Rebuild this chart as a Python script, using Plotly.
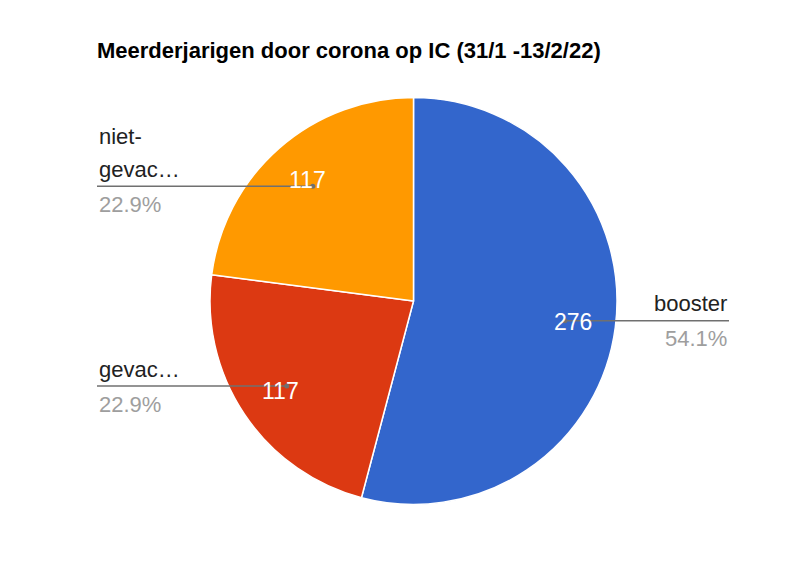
import numpy as np
import plotly.graph_objects as go

# ── Data ────────────────────────────────────────────────────────────── #
categories = ["booster", "gevaccineerd", "niet-gevaccineerd"]
shown_labels = [["booster"], ["gevac…"], ["niet-", "gevac…"]]
patients = [276, 117, 117]
colors = ["#3366cc", "#dc3912", "#ff9900"]

title = "Meerderjarigen door corona op IC (31/1 -13/2/22)"

W, H = 800, 572
FONT = "Arial, Liberation Sans, sans-serif"
PAGE_OFFSET = 8  # default body margin of the html page

# pie geometry in pixels (page coordinates)
cx, cy, R = 413.5, 301, 203.5


def px(x):
    return (x - PAGE_OFFSET) / W


def py(y):
    return 1 - (y - PAGE_OFFSET) / H


fig = go.Figure()

fig.add_trace(go.Pie(
    labels=categories,
    values=patients,
    marker=dict(colors=colors, line=dict(color="white", width=1.5)),
    sort=False,
    direction="clockwise",
    rotation=0,
    textinfo="none",
    hoverinfo="label+value+percent",
    showlegend=False,
    domain=dict(x=[px(cx - R), px(cx + R)], y=[py(cy + R), py(cy - R)]),
))

# ── Labels with leader lines (positions derived from slice angles) ──── #
vals = np.array(patients, dtype=float)
frac = vals / vals.sum()
start = np.concatenate([[0], np.cumsum(frac)[:-1]])
mid = (start + frac / 2) * 2 * np.pi

left_x, right_x = 97, 729
line_col = "#707070"

for i, a in enumerate(mid):
    dx, dy = np.sin(a), -np.cos(a)
    tx, ty = cx + 0.79 * R * dx, cy + 0.79 * R * dy
    dotx, doty = cx + 0.75 * R * dx, cy + 0.75 * R * dy
    right = dx > 0
    edge = right_x if right else left_x

    fig.add_shape(type="line", xref="paper", yref="paper",
                  x0=px(dotx), y0=py(doty), x1=px(edge), y1=py(doty),
                  line=dict(color=line_col, width=1.5))
    fig.add_shape(type="circle", xref="paper", yref="paper",
                  x0=px(dotx - 2.5), y0=py(doty - 2.5),
                  x1=px(dotx + 2.5), y1=py(doty + 2.5),
                  fillcolor=line_col, line=dict(width=0))

    # value inside slice
    fig.add_annotation(x=px(tx), y=py(ty), xref="paper", yref="paper",
                       text=str(patients[i]), showarrow=False,
                       xanchor="center", yanchor="middle",
                       font=dict(family=FONT, size=23, color="white"))

    # name lines above the leader line
    lines = shown_labels[i]
    for k, txt in enumerate(reversed(lines)):
        fig.add_annotation(x=px(edge), y=py(doty - 17 - 33 * k),
                           xref="paper", yref="paper",
                           text=txt, showarrow=False,
                           xanchor="right" if right else "left",
                           yanchor="middle",
                           font=dict(family=FONT, size=22, color="#222222"))

    # percentage below the leader line
    fig.add_annotation(x=px(edge), y=py(doty + 18),
                       xref="paper", yref="paper",
                       text=f"{frac[i] * 100:.1f}%", showarrow=False,
                       xanchor="right" if right else "left",
                       yanchor="middle",
                       font=dict(family=FONT, size=22, color="#9e9e9e"))

fig.update_layout(
    title=dict(text=f"<b>{title}</b>", x=px(97), xanchor="left",
               y=py(50), yanchor="middle", xref="paper", yref="paper",
               font=dict(family=FONT, size=22, color="#000000")),
    width=W, height=H,
    margin=dict(l=0, r=0, t=0, b=0),
    paper_bgcolor="white",
    plot_bgcolor="white",
)

fig.write_html("out.html")
